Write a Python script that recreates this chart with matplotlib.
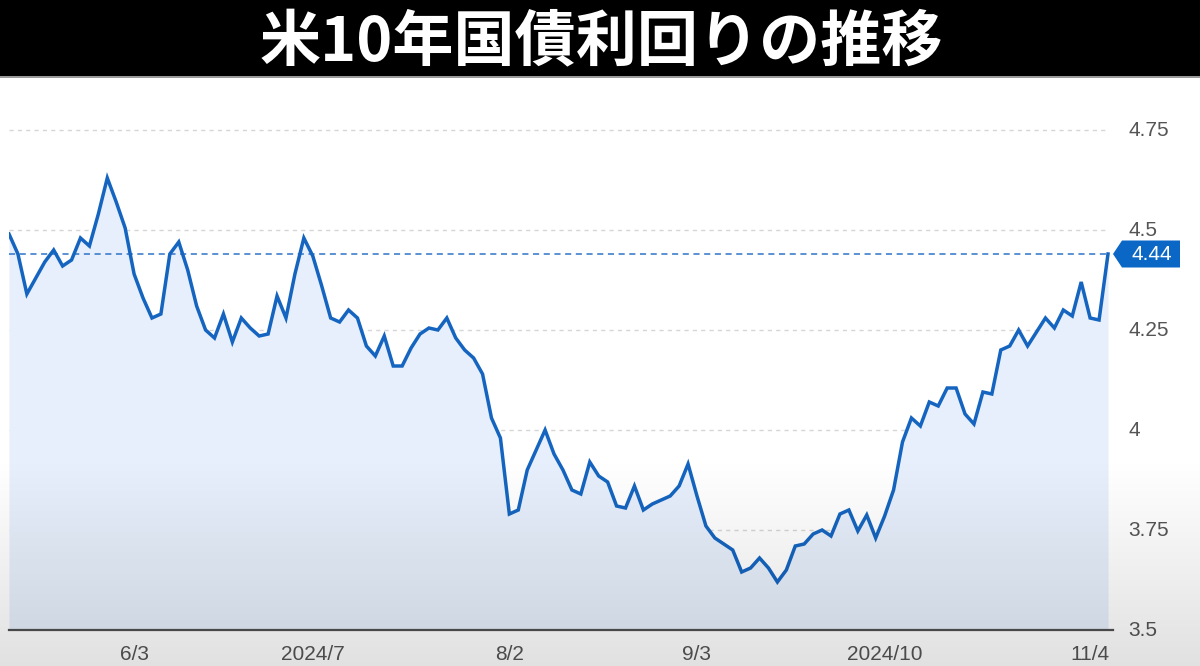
import numpy as np
import matplotlib.pyplot as plt
import matplotlib.transforms as mtransforms
from matplotlib.patches import Polygon, Rectangle

# US 10y treasury yield, one point per trading day
yields = [
    4.49, 4.44, 4.34, 4.38, 4.42, 4.45, 4.41, 4.425, 4.48, 4.46,
    4.54, 4.63, 4.57, 4.505, 4.39, 4.33, 4.28, 4.29, 4.44, 4.47,
    4.40, 4.31, 4.25, 4.23, 4.29, 4.22, 4.28, 4.255, 4.235, 4.24,
    4.335, 4.28, 4.39, 4.48, 4.435, 4.36, 4.28, 4.27, 4.30, 4.28,
    4.21, 4.185, 4.235, 4.16, 4.16, 4.205, 4.24, 4.255, 4.25, 4.28,
    4.23, 4.20, 4.18, 4.14, 4.03, 3.98,
    3.79, 3.80, 3.90, 3.95, 4.00, 3.94, 3.90, 3.85, 3.84, 3.92,
    3.885, 3.87, 3.81, 3.805, 3.86, 3.80, 3.815, 3.825, 3.835, 3.86,
    3.915, 3.835, 3.76, 3.73, 3.715, 3.70, 3.645, 3.655, 3.68,
    3.655, 3.62, 3.65, 3.71, 3.715, 3.74, 3.75, 3.735, 3.79, 3.80,
    3.7475, 3.7875, 3.73, 3.785, 3.85, 3.97, 4.03, 4.01, 4.07, 4.06,
    4.105, 4.105, 4.04, 4.015, 4.095, 4.09, 4.20, 4.21, 4.25, 4.21,
    4.245, 4.28, 4.255, 4.30, 4.285, 4.37, 4.28, 4.275, 4.44,
]
tick_pos = [14, 34, 56, 77, 98, 121]
tick_labels = ["6/3", "2024/7", "8/2", "9/3", "2024/10", "11/4"]
y_ticks = [3.5, 3.75, 4.0, 4.25, 4.5, 4.75]
y_tick_labels = ["3.5", "3.75", "4", "4.25", "4.5", "4.75"]
title = "米10年国債利回りの推移"

plt.rcParams['font.family'] = ['Liberation Sans', 'DejaVu Sans']

x = np.arange(len(yields))
last = yields[-1]

fig = plt.figure(figsize=(12.0, 6.66), dpi=100)
fig.patch.set_facecolor("white")

ax = fig.add_axes([9 / 1200, 36 / 666, 1104 / 1200, 500 / 666])
ax.set_facecolor("none")
ax.fill_between(x, yields, 3.5, color="#e6effb", lw=0, zorder=1)
for yt in y_ticks[1:]:
    ax.axhline(yt, xmax=0.995, color="#d6d6d6", lw=1.0, dashes=(3, 3),
               zorder=0.5, clip_on=False)
ax.axhline(last, xmax=(len(yields) - 1) / 123.56, color="#2f74c8", lw=1.1,
           dashes=(4, 3), zorder=2)
ax.plot(x, yields, color="#1565c0", lw=2.5, solid_joinstyle="miter", zorder=3)

ax.set_xlim(0, 123.56)
ax.set_ylim(3.5, 4.75)
for s in ["top", "left", "right"]:
    ax.spines[s].set_visible(False)
ax.spines["bottom"].set_color("#505050")
ax.spines["bottom"].set_linewidth(1.6)

ax.set_xticks(tick_pos)
ax.set_xticklabels(tick_labels)
ax.yaxis.tick_right()
ax.set_yticks(y_ticks)
ax.set_yticklabels(y_tick_labels)
ax.tick_params(axis="x", length=0, pad=11, labelsize=15, labelcolor="#555555")
ax.tick_params(axis="y", length=0, pad=11, labelsize=15, labelcolor="#555555")
for lab in ax.get_yticklabels():
    lab.set_verticalalignment("center")

# value tag at the right edge
tag_at = mtransforms.blended_transform_factory(ax.transAxes, ax.transData)
tag_tr = fig.dpi_scale_trans + mtransforms.ScaledTranslation(1.0, last, tag_at)
tag = Polygon([(0, 0), (0.09, 0.135), (0.67, 0.135), (0.67, -0.135), (0.09, -0.135)],
              closed=True, facecolor="#0b67c6", edgecolor="none",
              transform=tag_tr, clip_on=False, zorder=5)
ax.add_patch(tag)
ax.text(0.385, -0.005, f"{last:.2f}", transform=tag_tr, color="white", fontsize=15,
        ha="center", va="center", zorder=6, clip_on=False)

# soft grey shading towards the bottom of the frame
shade = fig.add_axes([0, 0, 1, 210 / 666], zorder=10)
shade.axis("off")
grad = np.zeros((100, 2, 4))
grad[..., 3] = np.linspace(0.12, 0.0, 100)[:, None]
shade.imshow(grad, aspect="auto", origin="lower", extent=[0, 1, 0, 1])
shade.set_xlim(0, 1)
shade.set_ylim(0, 1)

# black title bar
fig.patches.append(Rectangle((0, 1 - 76 / 666), 1, 76 / 666, transform=fig.transFigure,
                             facecolor="black", edgecolor="none", zorder=20))
fig.patches.append(Rectangle((0, 1 - 78 / 666), 1, 2 / 666, transform=fig.transFigure,
                             facecolor="#9a9a9a", edgecolor="none", zorder=20))
fig.text(0.501, 1 - 43 / 666, title, color="white", fontsize=44, fontweight="bold",
         ha="center", va="center", family=["Noto Sans CJK JP", "DejaVu Sans"], zorder=21)

plt.savefig("out.png", dpi=100)
plt.close()
